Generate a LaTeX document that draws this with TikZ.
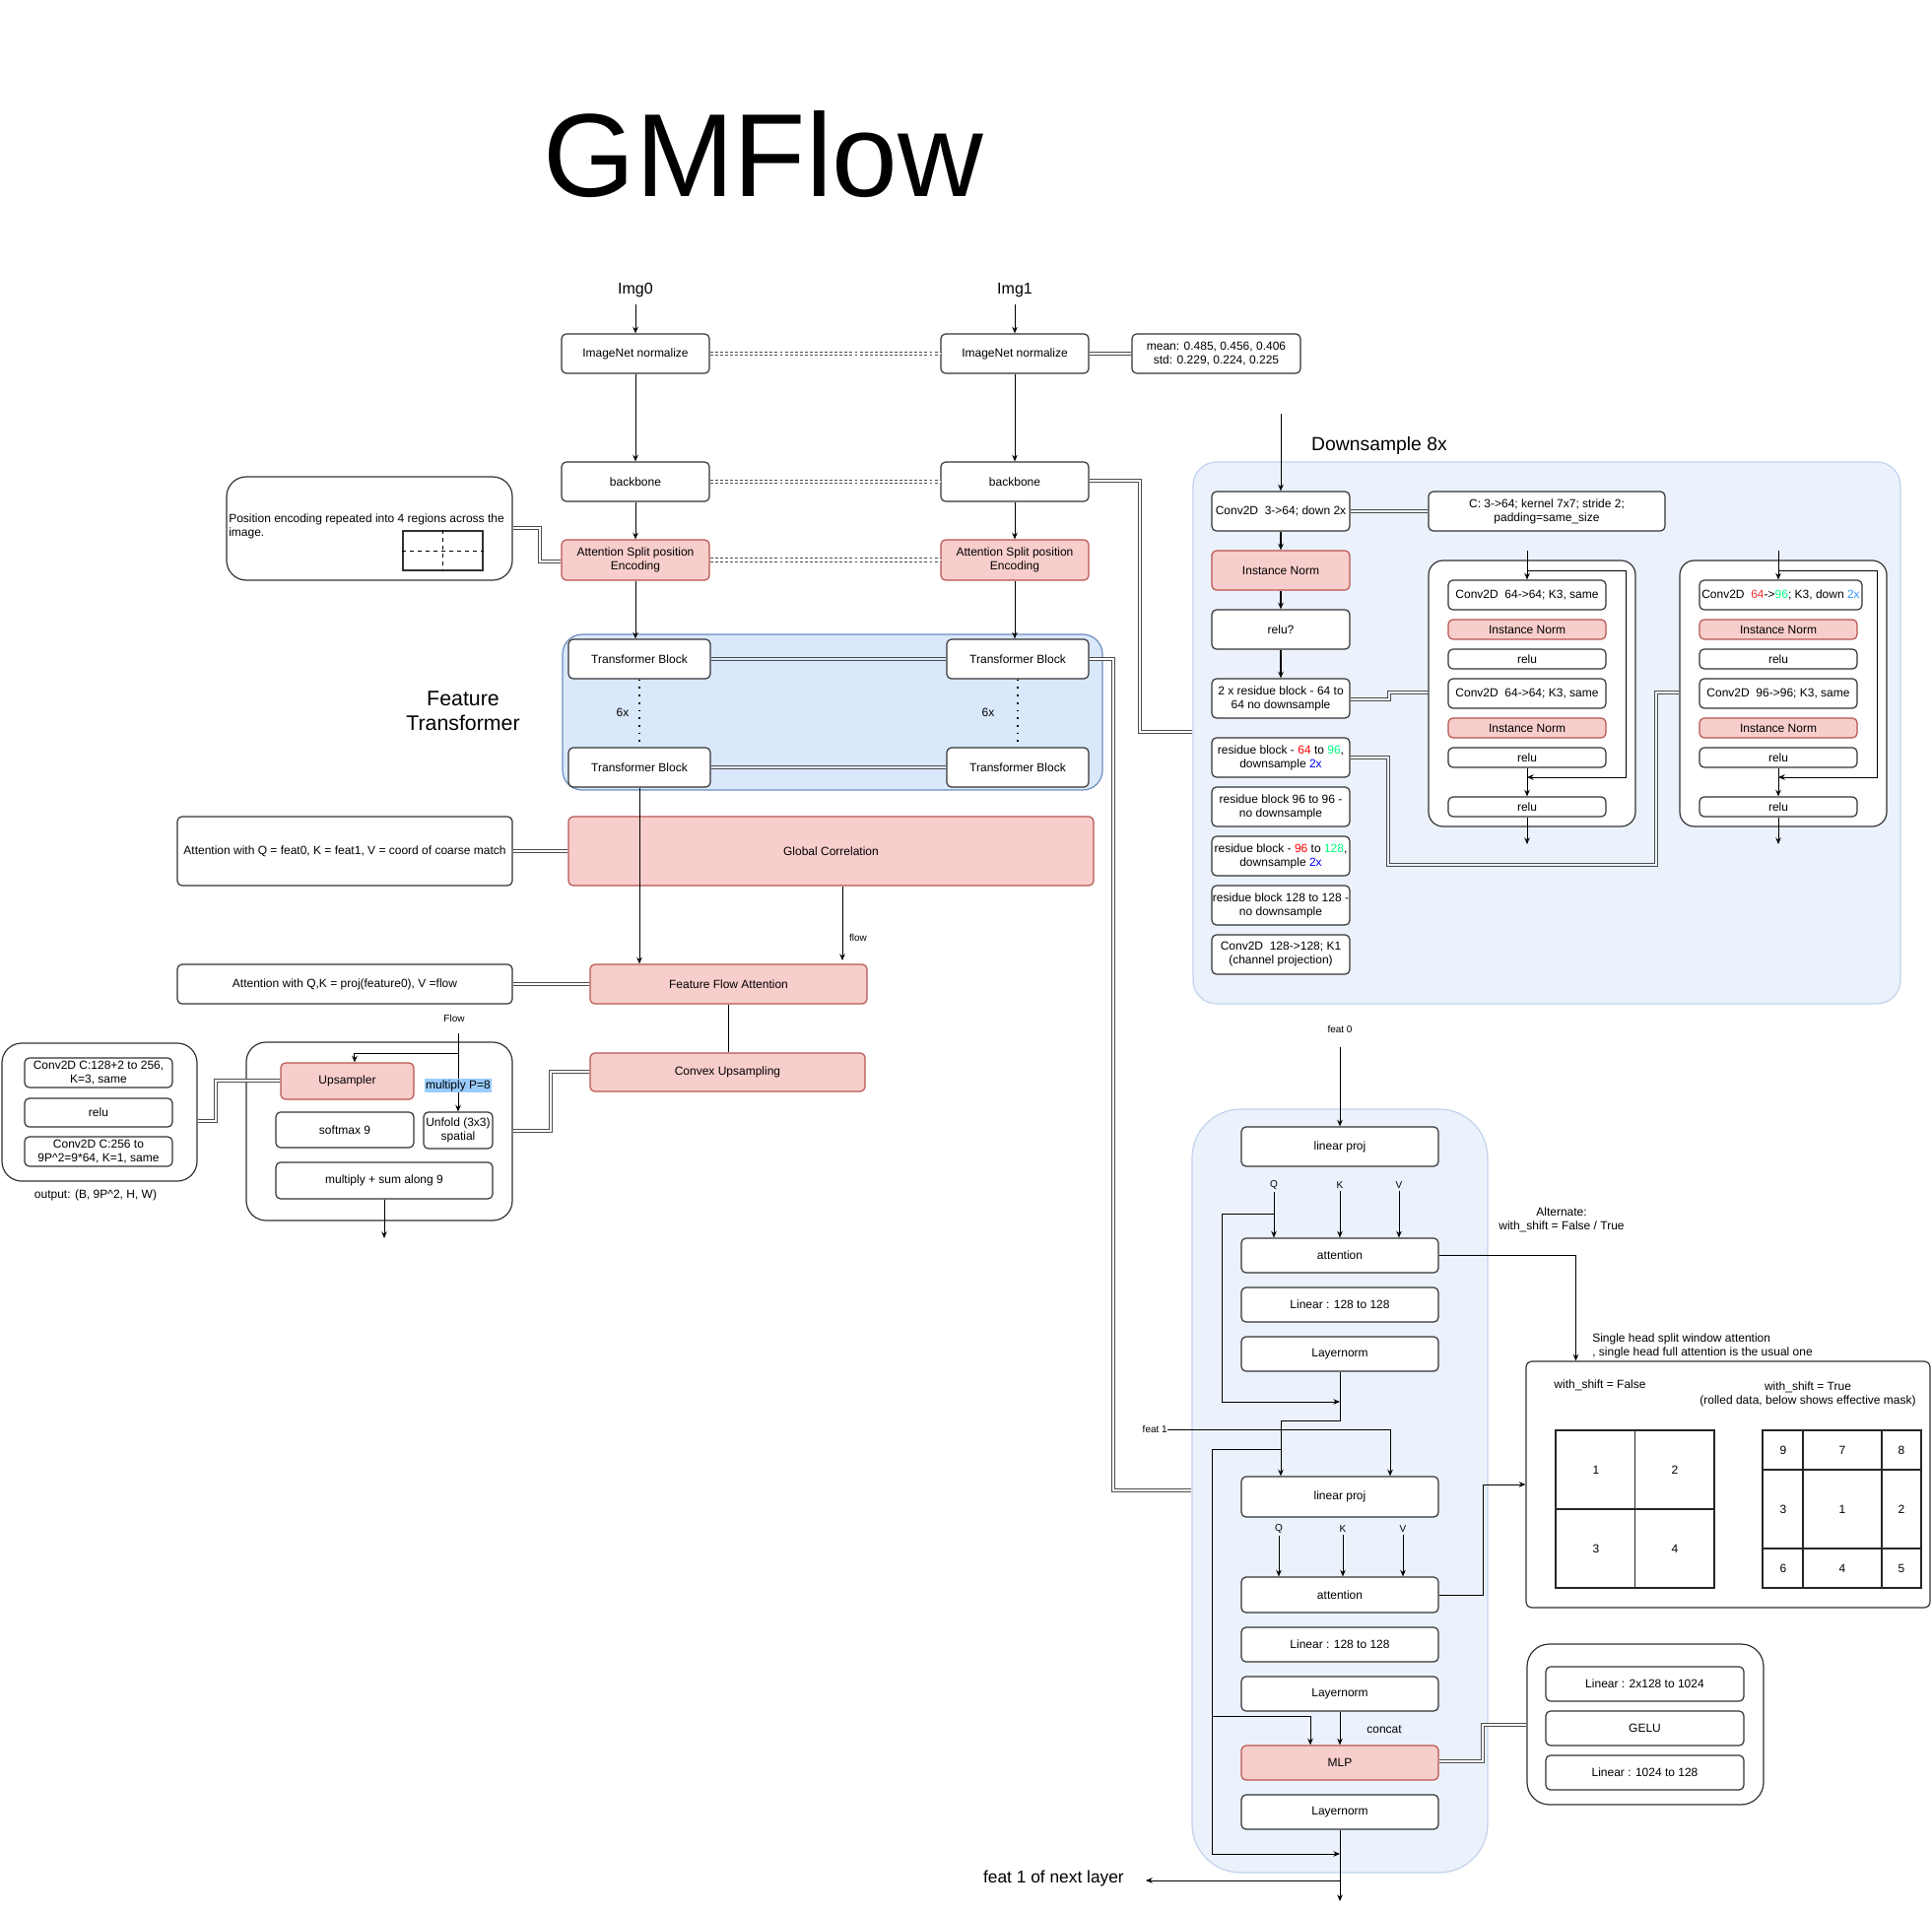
\documentclass[tikz,border=0pt]{standalone}
\usepackage{fontspec}
\setmainfont{Liberation Sans}
\usetikzlibrary{arrows.meta}
\definecolor{pinkf}{HTML}{F8CECC}
\definecolor{pinkd}{HTML}{B85450}
\definecolor{bluef}{HTML}{DAE8FC}
\definecolor{blued}{HTML}{6C8EBF}
\definecolor{lbluef}{HTML}{EBF2FC}
\definecolor{lblued}{HTML}{C2D3EC}
\definecolor{hlb}{HTML}{99CCFF}
\definecolor{grn}{HTML}{00FF80}
\definecolor{redc}{HTML}{FF0000}
\definecolor{bluec}{HTML}{0000FF}
\definecolor{blueb}{HTML}{3399FF}
\definecolor{redb}{HTML}{FF3333}
\definecolor{edgec}{HTML}{333333}
\definecolor{linkc}{HTML}{4D4D4D}
\newcommand{\bx}[7][]{\node[box,minimum width={(#5-#3)*0.75pt},minimum height={(#6-#4)*0.75pt},#1] (#2) at ({(#3+#5)/2},{(#4+#6)/2}) {#7};}
\begin{document}
\begin{tikzpicture}[x=0.75pt,y=-0.75pt,
  box/.style={draw=edgec,line width=0.9pt,rounded corners=3.5pt,fill=white,inner sep=0.5pt,align=center,font=\fontsize{9}{10.5}\selectfont},
  pk/.style={fill=pinkf,draw=pinkd},
  arr/.style={-{Stealth[length=5pt,width=4.2pt]},line width=0.75pt,draw=black},
  lnk/.style={draw=linkc,line width=0.8pt,double=white,double distance=1.8pt},
  dlnk/.style={lnk,dash pattern=on 2.2pt off 1.6pt},
  lbl/.style={inner sep=0pt,font=\fontsize{7.5}{9}\selectfont},
  txt/.style={inner sep=0pt,align=center,font=\fontsize{9}{10.5}\selectfont},
  grid/.style={box,rounded corners=0pt,draw=black!85,line width=1.1pt,fill=none}
]
\useasboundingbox (0,0) rectangle (1961,1941);
\fill[white] (0,0) rectangle (1961,1941);

% ---------- title ----------
\node[anchor=base,inner sep=0pt,font=\fontsize{90}{90}\selectfont] (title) at (775,199) {GMFlow};

% ---------- background panels ----------
\bx[fill=bluef,draw=blued,rounded corners=15pt]{ftp}{571}{644}{1119}{802}{}
\bx[fill=lbluef,draw=lblued,rounded corners=18pt]{dsp}{1211}{469}{1929}{1019}{}
\bx[fill=lbluef,draw=lblued,rounded corners=37pt]{tfp}{1210}{1126}{1510}{1901}{}

% ---------- inputs ----------
\node[txt,font=\fontsize{12}{14}\selectfont] (img0) at (645,295) {Img0};
\node[txt,font=\fontsize{12}{14}\selectfont] (img1) at (1030,295) {Img1};
\bx{norm0}{570}{339}{720}{379}{ImageNet normalize}
\bx{norm1}{955}{339}{1105}{379}{ImageNet normalize}
\bx{ms}{1149}{339}{1320}{379}{mean: 0.485, 0.456, 0.406\\std: 0.229, 0.224, 0.225}
\bx{bb0}{570}{469}{720}{509}{backbone}
\bx{bb1}{955}{469}{1105}{509}{backbone}
\bx[pk]{ase0}{570}{548}{720}{589}{Attention Split position\\Encoding}
\bx[pk]{ase1}{955}{548}{1105}{589}{Attention Split position\\Encoding}
\draw[arr,shorten <=5pt] (img0) -- (norm0);
\draw[arr,shorten <=5pt] (img1) -- (norm1);
\draw[arr] (norm0) -- (bb0);
\draw[arr] (norm1) -- (bb1);
\draw[arr] (bb0) -- (ase0);
\draw[arr] (bb1) -- (ase1);
\draw[dlnk] (norm0) -- (norm1);
\draw[dlnk] (bb0) -- (bb1);
\draw[dlnk] (ase0) -- (ase1);
\draw[lnk] (norm1) -- (ms);

% position encoding note
\bx[rounded corners=15pt]{pn}{230}{484}{520}{589}{}
\node[txt,align=left,anchor=west] (pntext) at (232,534.5) {Position encoding repeated into 4 regions across the\\image.};
\bx[rounded corners=0pt,line width=1pt]{pgrid}{409}{539}{490}{579}{}
\draw[dashed,line width=0.6pt] (pgrid.north) -- (pgrid.south) (pgrid.west) -- (pgrid.east);
\draw[lnk] (pn.east |- 0,536) -- (548,536) -- (548,570) -- (ase0.west |- 0,570);

% ---------- feature transformer ----------
\node[txt,font=\fontsize{16}{19}\selectfont] (ftl) at (470,722) {Feature\\Transformer};
\bx{tbA0}{577}{649}{721}{689}{Transformer Block}
\bx{tbA1}{961}{649}{1105}{689}{Transformer Block}
\bx{tbB0}{577}{759}{721}{799}{Transformer Block}
\bx{tbB1}{961}{759}{1105}{799}{Transformer Block}
\draw[arr] (ase0.south) -- (ase0.south |- tbA0.north);
\draw[arr] (ase1.south) -- (ase1.south |- tbA1.north);
\draw[lnk,double=bluef] (tbA0) -- (tbA1);
\draw[lnk,double=bluef] (tbB0) -- (tbB1);
\draw[line width=1.1pt,dash pattern=on 1.3pt off 4.5pt] (tbA0) -- (tbB0);
\draw[line width=1.1pt,dash pattern=on 1.3pt off 4.5pt] (tbA1) -- (tbB1);
\node[txt] (six0) at (632,723) {6x};
\node[txt] (six1) at (1003,723) {6x};

% ---------- correlation / flow ----------
\bx[pk]{gc}{577}{829}{1110}{899}{Global Correlation}
\bx{gcn}{180}{829}{520}{899}{Attention with Q = feat0, K = feat1, V = coord of coarse match}
\draw[lnk] (gcn) -- (gc);
\bx[pk]{ffa}{599}{979}{880}{1019}{Feature Flow Attention}
\bx{ffan}{180}{979}{520}{1019}{Attention with Q,K = proj(feature0), V =flow}
\draw[lnk] (ffan) -- (ffa);
\draw[arr] (tbB0.south) -- (tbB0.south |- ffa.north);
\coordinate (gcflow) at (855,975);
\draw[arr] (gc.south -| gcflow) -- (gcflow);
\node[lbl] (flowl) at (871,952) {flow};
\bx[pk]{cvx}{599}{1069}{878}{1108}{Convex Upsampling}
\draw[line width=0.75pt] (ffa.south) -- (ffa.south |- cvx.north);

% ---------- upsampler ----------
\bx[rounded corners=15pt]{upp}{250}{1058}{520}{1239}{}
\bx[pk]{ups}{285}{1079}{420}{1116}{Upsampler}
\bx{smx}{280}{1129}{420}{1165}{softmax 9}
\bx{unf}{430}{1129}{500}{1166}{Unfold (3x3)\\spatial}
\bx{mls}{280}{1180}{500}{1217}{multiply + sum along 9}
\node[lbl] (flowL) at (461,1034) {Flow};
\coordinate (flowtop) at (465,1049);
\draw[arr] (flowtop) -- (flowtop |- unf.north);
\draw[arr] (flowtop |- 0,1069) -| ([xshift=5.6pt]ups.north);
\node[txt,fill=hlb,inner sep=0.8pt] (mp8) at (465,1102) {multiply P=8};
\coordinate (upout) at (390,1257);
\draw[arr] (mls.south) -- (upout);
\draw[lnk] (upp.east |- 0,1148) -- (559,1148) -- (559,1088) -- (cvx.west |- 0,1088);

\bx[rounded corners=15pt]{cvp}{2}{1059}{200}{1199}{}
\bx{cv1}{25}{1074}{175}{1104}{Conv2D C:128+2 to 256,\\K=3, same}
\bx{cv2}{25}{1115}{175}{1144}{relu}
\bx{cv3}{25}{1154}{175}{1184}{Conv2D C:256 to\\9P\textasciicircum2=9*64, K=1, same}
\node[txt] (outl) at (97,1213) {output: (B, 9P\textasciicircum2, H, W)};
\draw[lnk] (cvp.east |- 0,1138) -- (219,1138) -- (219,1097) -- (ups.west |- 0,1097);

% ---------- downsample ----------
\node[txt,font=\fontsize{14.5}{17}\selectfont] (dsl) at (1400,452) {Downsample 8x};
\draw[lnk] (bb1.east |- 0,488) -- (1157,488) -- (1157,743) -- (dsp.west |- 0,743);
\coordinate (dtop) at (1300,420);
\bx{d1}{1230}{499}{1370}{539}{Conv2D\ \ 3->64; down 2x}
\bx[pk]{d2}{1230}{559}{1370}{599}{Instance Norm}
\bx{d3}{1230}{619}{1370}{659}{relu?}
\bx{d4}{1230}{689}{1370}{729}{2 x residue block - 64 to\\64 no downsample}
\bx{d5}{1230}{749}{1370}{789}{residue block - \textcolor{redc}{64} to \textcolor{grn}{96},\\downsample \textcolor{bluec}{2x}}
\bx{d6}{1230}{799}{1370}{839}{residue block 96 to 96 -\\no downsample}
\bx{d7}{1230}{849}{1370}{889}{residue block - \textcolor{redc}{96} to \textcolor{grn}{128},\\downsample \textcolor{bluec}{2x}}
\bx{d8}{1230}{899}{1370}{939}{residue block 128 to 128 -\\no downsample}
\bx{d9}{1230}{949}{1370}{989}{Conv2D\ \ 128->128; K1\\(channel projection)}
\draw[arr] (dtop) -- (d1.north);
\draw[arr,line width=1.2pt] (d1) -- (d2);
\draw[arr,line width=1.2pt] (d2) -- (d3);
\draw[arr,line width=1.2pt] (d3) -- (d4);
\bx{cb}{1450}{499}{1690}{539}{C: 3->64; kernel 7x7; stride 2;\\padding=same\_size}
\draw[lnk,double=lbluef] (d1) -- (cb);

% residual block panel 1
\bx[rounded corners=11pt]{rp1}{1450}{569}{1660}{839}{}
\bx{r1a}{1470}{589}{1630}{619}{Conv2D\ \ 64->64; K3, same}
\bx[pk]{r1b}{1470}{629}{1630}{649}{Instance Norm}
\bx{r1c}{1470}{659}{1630}{679}{relu}
\bx{r1d}{1470}{689}{1630}{719}{Conv2D\ \ 64->64; K3, same}
\bx[pk]{r1e}{1470}{729}{1630}{749}{Instance Norm}
\bx{r1f}{1470}{759}{1630}{779}{relu}
\bx{r1g}{1470}{809}{1630}{829}{relu}
\coordinate (r1in) at (1550,559);
\coordinate (r1out) at (1550,857);
\draw[arr] (r1in) -- (r1a.north);
\draw[arr] (r1in |- 0,579) -- (1650,579) -- (1650,789) -- (r1in |- 0,789);
\draw[arr] (r1f) -- (r1g);
\draw[arr] (r1g) -- (r1out);

% residual block panel 2
\bx[rounded corners=11pt]{rp2}{1705}{569}{1915}{839}{}
\bx{r2a}{1725}{589}{1890}{619}{Conv2D\ \ \textcolor{redb}{64}->\textcolor{grn}{96}; K3, down \textcolor{blueb}{2x}}
\bx[pk]{r2b}{1725}{629}{1885}{649}{Instance Norm}
\bx{r2c}{1725}{659}{1885}{679}{relu}
\bx{r2d}{1725}{689}{1885}{719}{Conv2D\ \ 96->96; K3, same}
\bx[pk]{r2e}{1725}{729}{1885}{749}{Instance Norm}
\bx{r2f}{1725}{759}{1885}{779}{relu}
\bx{r2g}{1725}{809}{1885}{829}{relu}
\coordinate (r2in) at (1805,559);
\coordinate (r2out) at (1805,857);
\draw[arr] (r2in) -- (r2in |- r2a.north);
\draw[arr] (r2in |- 0,579) -- (1905,579) -- (1905,789) -- (r2in |- 0,789);
\draw[arr] (r2f) -- (r2g);
\draw[arr] (r2g) -- (r2out);

\draw[lnk,double=lbluef] (d4.east |- 0,710) -- (1410,710) -- (1410,703) -- (rp1.west |- 0,703);
\draw[lnk,double=lbluef] (d5.east |- 0,769) -- (1409,769) -- (1409,878) -- (1681,878) -- (1681,703) -- (rp2.west |- 0,703);

% ---------- transformer block detail ----------
\draw[lnk] (tbA1.east) -- (1130,669) -- (1130,1513) -- (tfp.west |- 0,1513);
\node[lbl] (f0) at (1360,1045) {feat 0};
\coordinate (f0s) at (1360,1063);
\bx{lp1}{1260}{1144}{1460}{1184}{linear proj}
\draw[arr] (f0s) -- (lp1.north);
\node[lbl] (q1) at (1293,1203) {Q};
\node[lbl] (k1) at (1360,1203) {K};
\node[lbl] (v1) at (1420,1203) {V};
\bx{att1}{1260}{1257}{1460}{1292}{attention}
\bx{lin1}{1260}{1307}{1460}{1342}{Linear : 128 to 128}
\bx{ln1}{1260}{1357}{1460}{1392}{Layernorm}
\draw[arr,shorten <=2pt] (q1) -- (q1 |- att1.north);
\draw[arr,shorten <=2pt] (k1) -- (k1 |- att1.north);
\draw[arr,shorten <=2pt] (v1) -- (v1 |- att1.north);
\draw[arr] (q1 |- 0,1232) -- (1240,1232) -- (1240,1423) -- (ln1.south |- 0,1423);
\bx{lp2}{1260}{1499}{1460}{1540}{linear proj}
\draw[arr] (ln1.south) -- ++(0,50) -| ([xshift=-45pt]lp2.north);
\node[lbl,anchor=east] (f1) at (1185,1451) {feat 1};
\draw[arr] (f1.east) -| ([xshift=38.25pt]lp2.north);
\node[lbl] (q2) at (1298,1552) {Q};
\node[lbl] (k2) at (1363,1552) {K};
\node[lbl] (v2) at (1424,1552) {V};
\bx{att2}{1260}{1601}{1460}{1637}{attention}
\bx{lin2}{1260}{1652}{1460}{1687}{Linear : 128 to 128}
\bx{ln2}{1260}{1702}{1460}{1737}{Layernorm}
\bx[pk]{mlp}{1260}{1772}{1460}{1807}{MLP}
\bx{ln3}{1260}{1822}{1460}{1857}{Layernorm}
\draw[arr,shorten <=2pt] (q2) -- (q2 |- att2.north);
\draw[arr,shorten <=2pt] (k2) -- (k2 |- att2.north);
\draw[arr,shorten <=2pt] (v2) -- (v2 |- att2.north);
\draw[arr] (1300,1471) -- (1230,1471) -- (1230,1882) -- (ln3.south |- 0,1882);
\draw[arr] (1230,1742) -- (1330,1742) -- ([xshift=-22.5pt]mlp.north);
\draw[arr] (ln2) -- (mlp);
\node[txt] (concat) at (1405,1756) {concat};
\coordinate (tfout) at (1360,1930);
\draw[arr] (ln3) -- (tfout);
\node[txt,font=\fontsize{13}{15}\selectfont,anchor=east] (nextl) at (1141,1907) {feat 1 of next layer};
\coordinate (nlt) at (1163,1909);
\draw[arr] (ln3.south |- 0,1909) -- (nlt);

% ---------- shifted window box ----------
\node[txt] (alt) at (1585,1238) {Alternate:\\with\_shift = False / True};
\bx[rounded corners=4.5pt]{shb}{1549}{1382}{1959}{1632}{}
\draw[arr] (att1.east) -| ([xshift=-115.9pt]shb.north);
\draw[arr] (att2.east) -- ++(45,0) |- (shb.west);
\node[txt,align=left,anchor=west] (shl) at (1616,1366) {Single head split window attention\\, single head full attention is the usual one};
\node[txt] (wsf) at (1624,1406) {with\_shift = False};
\node[txt] (wst) at (1835,1415) {with\_shift = True\\(rolled data, below shows effective mask)};
\bx[grid]{g1}{1579}{1452}{1740}{1612}{}
\draw[line width=1.1pt,draw=black!85] (g1.north) -- (g1.south) (g1.west) -- (g1.east);
\node[txt] (g1a) at (1620,1492) {1};
\node[txt] (g1b) at (1700,1492) {2};
\node[txt] (g1c) at (1620,1572) {3};
\node[txt] (g1d) at (1700,1572) {4};
\bx[grid]{g2}{1789}{1452}{1950}{1612}{}
\draw[line width=1.1pt,draw=black!85] (1830,1452) -- (1830,1612) (1910,1452) -- (1910,1612) (1789,1492) -- (1950,1492) (1789,1572) -- (1950,1572);
\node[txt] (g2a) at (1810,1472) {9};
\node[txt] (g2b) at (1870,1472) {7};
\node[txt] (g2c) at (1930,1472) {8};
\node[txt] (g2d) at (1810,1532) {3};
\node[txt] (g2e) at (1870,1532) {1};
\node[txt] (g2f) at (1930,1532) {2};
\node[txt] (g2g) at (1810,1592) {6};
\node[txt] (g2h) at (1870,1592) {4};
\node[txt] (g2i) at (1930,1592) {5};

% ---------- MLP detail ----------
\bx[rounded corners=17pt]{mpp}{1550}{1669}{1790}{1832}{}
\bx{m1}{1569}{1692}{1770}{1727}{Linear : 2x128 to 1024}
\bx{m2}{1569}{1737}{1770}{1772}{GELU}
\bx{m3}{1569}{1782}{1770}{1817}{Linear : 1024 to 128}
\draw[lnk] (mlp.east |- 0,1788) -- (1505,1788) -- (1505,1751) -- (mpp.west |- 0,1751);
\end{tikzpicture}
\end{document}
